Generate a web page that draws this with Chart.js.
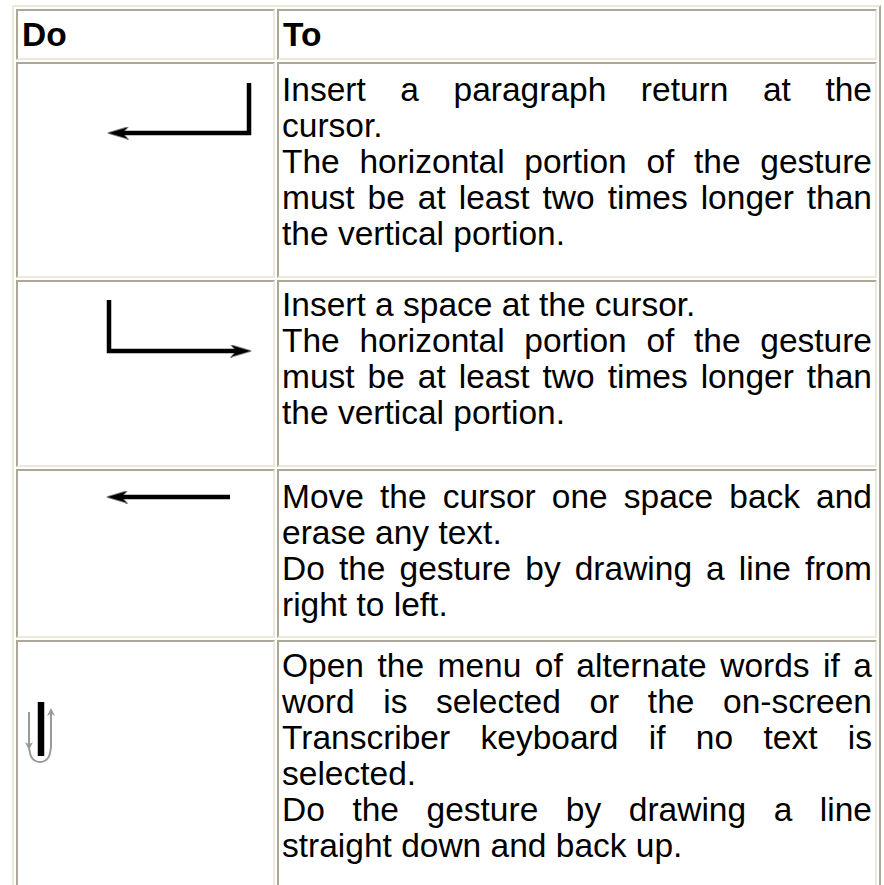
<!DOCTYPE html>
<html>
<head>
<meta charset="utf-8">
<script src="https://cdn.jsdelivr.net/npm/chart.js@4.4.1/dist/chart.umd.min.js"></script>
<style>
html, body { margin: 0; padding: 0; background: #fff; width: 884px; height: 885px; overflow: hidden; }
table {
    position: absolute; left: 12px; top: 5px; width: 869px;
    table-layout: fixed; border-collapse: separate; border-spacing: 2px;
    border: 2px solid; border-color: #ECE9D8 #ACA899 #ACA899 #ECE9D8;
    font-family: "Liberation Sans", Arial, sans-serif; font-size: 33.5px; line-height: 36px; color: #000;
}
td, th {
    box-sizing: border-box; position: relative; padding: 0 3px; vertical-align: top; text-align: left;
    border: 2px solid; border-color: #ACA899 #ECE9D8 #ECE9D8 #ACA899;
}
th { vertical-align: middle; font-weight: bold; padding-left: 4px; }
td canvas { position: absolute; left: 0; top: 0; }
.j { text-align: justify; text-align-last: justify; }
</style>
</head>
<body>
<table>
    <colgroup><col style="width:259px"><col style="width:600px"></colgroup>
    <tr style="height:51px"><th>Do</th><th>To</th></tr>
    <tr style="height:216px">
        <td class="do"></td>
        <td style="padding-top:8px">
            <div class="j">Insert a paragraph return at the</div>
            <div>cursor.</div>
            <div class="j">The horizontal portion of the gesture</div>
            <div class="j">must be at least two times longer than</div>
            <div>the vertical portion.</div>
        </td>
    </tr>
    <tr style="height:187px">
        <td class="do"></td>
        <td style="padding-top:5px">
            <div>Insert a space at the cursor.</div>
            <div class="j">The horizontal portion of the gesture</div>
            <div class="j">must be at least two times longer than</div>
            <div>the vertical portion.</div>
        </td>
    </tr>
    <tr style="height:169px">
        <td class="do"></td>
        <td style="padding-top:8px">
            <div class="j">Move the cursor one space back and</div>
            <div>erase any text.</div>
            <div class="j">Do the gesture by drawing a line from</div>
            <div>right to left.</div>
        </td>
    </tr>
    <tr style="height:300px">
        <td class="do"></td>
        <td style="padding-top:6px">
            <div class="j">Open the menu of alternate words if a</div>
            <div class="j">word is selected or the on-screen</div>
            <div class="j">Transcriber keyboard if no text is</div>
            <div>selected.</div>
            <div class="j">Do the gesture by drawing a line</div>
            <div>straight down and back up.</div>
        </td>
    </tr>
</table>
<script>
// gesture strokes, in cell units (x to the right, y down from the cell top)
const returnStroke = [{x: 231, y: 19}, {x: 231, y: 69}, {x: 100, y: 69}]
const spaceStroke = [{x: 91, y: 18}, {x: 91, y: 69}, {x: 223, y: 69}]
const backStroke = [{x: 212, y: 26}, {x: 99, y: 26}]
const menuBar = [{x: 23, y: 60}, {x: 23, y: 114}]
const menuDown = [{x: 11, y: 70}, {x: 11, y: 106}]
const menuLoop = [{x: 11, y: 106}, {x: 14, y: 116}, {x: 22, y: 120}, {x: 30, y: 116}, {x: 33, y: 106}]
const menuUp = [{x: 33, y: 106}, {x: 33, y: 72}]
const menuHeads = [{x: 11, y: 104}, {x: 33, y: 70}]

// arrow direction of each head, degrees (0 = pointing right)
const returnHead = 180
const spaceHead = 0
const backHead = 180
const menuHeadAngles = [90, 270]

// dart shaped arrow head drawn once, used as point style
function dart(w, h, color) {
    const c = document.createElement('canvas')
    c.width = w
    c.height = h
    const g = c.getContext('2d')
    g.fillStyle = color
    g.beginPath()
    g.moveTo(w, h / 2)
    g.lineTo(0, 0)
    g.lineTo(w * 0.3, h / 2)
    g.lineTo(0, h)
    g.closePath()
    g.fill()
    return c
}
const blackHead = dart(22, 13, '#000')
const grayHead = dart(8, 8, '#999')

// a stroke with an arrow head on its last point
function arrow(data, angle) {
    const last = data.length - 1
    return {
        data,
        borderColor: '#000',
        borderWidth: 4.5,
        borderJoinStyle: 'miter',
        pointRadius: c => c.dataIndex === last ? 5 : 0,
        pointStyle: c => c.dataIndex === last ? blackHead : 'circle',
        pointRotation: angle
    }
}

function gray(data, tension) {
    return { data, borderColor: '#999', borderWidth: 2, tension, pointRadius: 0 }
}

const gestures = [
    [arrow(returnStroke, returnHead)],
    [arrow(spaceStroke, spaceHead)],
    [arrow(backStroke, backHead)],
    [
        gray(menuDown, 0),
        gray(menuLoop, 0.45),
        gray(menuUp, 0),
        { data: menuHeads, showLine: false, pointRadius: 4, pointStyle: grayHead, pointRotation: menuHeadAngles },
        { data: menuBar, borderColor: '#000', borderWidth: 6.5, pointRadius: 0 }
    ]
]

document.querySelectorAll('td.do').forEach((cell, i) => {
    const w = cell.clientWidth, h = cell.clientHeight
    const canvas = document.createElement('canvas')
    canvas.width = w
    canvas.height = h
    cell.appendChild(canvas)

    new Chart(canvas, {
        type: 'scatter',
        data: { datasets: gestures[i].map(d => ({ showLine: true, ...d })) },
        options: {
            responsive: false,
            animation: false,
            events: [],
            layout: { padding: 0, autoPadding: false },
            plugins: { legend: { display: false }, tooltip: { enabled: false } },
            scales: {
                x: { type: 'linear', min: 0, max: w, display: false },
                y: { type: 'linear', min: 0, max: h, reverse: true, display: false }
            }
        }
    })
})
</script>
</body>
</html>
